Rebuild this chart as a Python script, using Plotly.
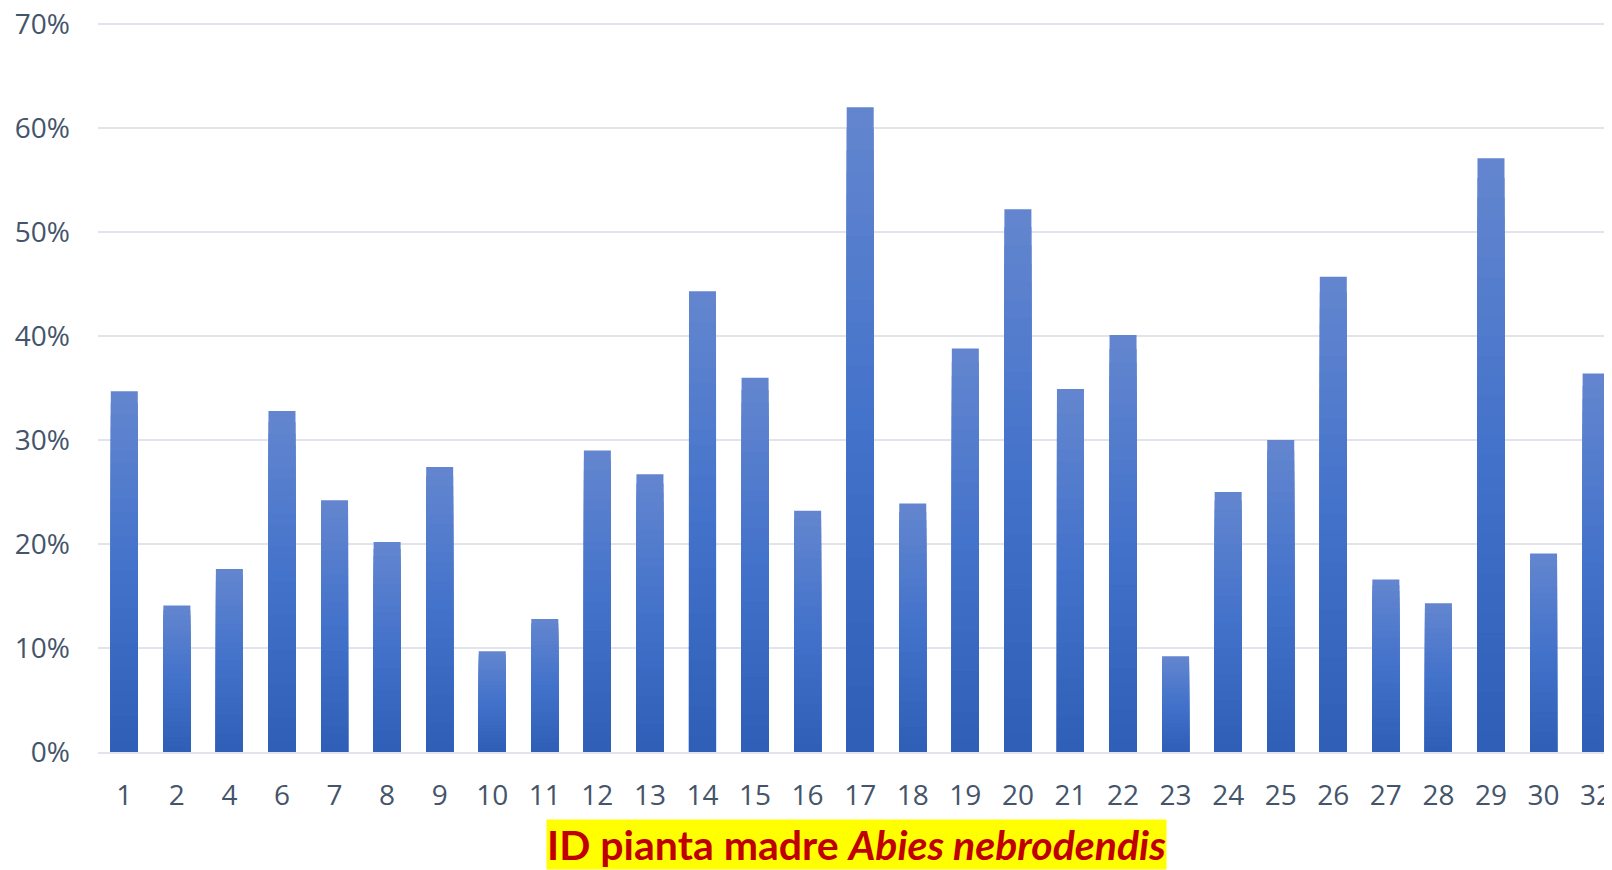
import plotly.graph_objects as go

categories = ["1","2","4","6","7","8","9","10","11","12","13","14","15","16","17",
              "18","19","20","21","22","23","24","25","26","27","28","29","30","32"]
values = [34.7, 14.1, 17.6, 32.8, 24.2, 20.2, 27.4, 9.7, 12.8, 29.0, 26.7, 44.3, 36.0,
          23.2, 62.0, 23.9, 38.8, 52.2, 34.9, 40.1, 9.2, 25.0, 30.0, 45.7, 16.6, 14.3,
          57.1, 19.1, 36.4]
values = [v / 100 for v in values]
y_ticks = [0, 0.1, 0.2, 0.3, 0.4, 0.5, 0.6, 0.7]

TOP = (100, 134, 207)
MID = (66, 114, 202)
BOT = (46, 94, 182)

def shade(f):
    if f >= 0.5:
        t = (f - 0.5) / 0.5
        a, b = MID, TOP
    else:
        t = f / 0.5
        a, b = BOT, MID
    return "rgb(%d,%d,%d)" % tuple(round(a[k] + (b[k] - a[k]) * t) for k in range(3))

fig = go.Figure()
N = 30
for i in range(N):
    f = 1 - i / N
    fig.add_trace(go.Bar(
        x=categories, y=[v * f for v in values],
        marker=dict(color=shade(f - 0.5 / N), line=dict(width=0)),
        hoverinfo="skip" if i else "x+y", showlegend=False,
    ))

# page body has an 8px margin; figure is sized to compensate
W, H = 1596, 862
L, R, T, B = 90, 0, 14, 118
PH = H - T - B
fig.update_layout(
    width=W, height=H, barmode="overlay", bargap=0.486,
    margin=dict(l=L, r=R, t=T, b=B, autoexpand=False),
    plot_bgcolor="white", paper_bgcolor="white",
    font=dict(family="Open Sans", color="#44546A", size=28),
    xaxis=dict(type="category", range=[-0.5, 28.15], showgrid=False,
               showline=True, linecolor="#E1E4EA", linewidth=2,
               ticks="", ticklabelstandoff=17, tickfont=dict(size=28),
               automargin=False, ticklabeloverflow="allow"),
    yaxis=dict(range=[0, 0.702], tickvals=y_ticks, tickformat=".0%",
               showgrid=True, gridcolor="#E1E4EA", gridwidth=2,
               zeroline=False, showline=False, ticks="",
               ticklabelstandoff=27, tickfont=dict(size=28), automargin=False,
               ticklabeloverflow="allow"),
    annotations=[dict(
        text="<b>ID pianta madre <i>Abies nebrodendis</i></b>",
        xref="paper", yref="paper", x=(852.5 - L) / (1514), y=(H - B - 811) / PH,
        xanchor="center", yanchor="top", showarrow=False,
        bgcolor="#FFFF00", borderpad=0,
        font=dict(family="Lato", size=41, color="#C00000"),
    )],
)

fig.write_html("out.html")
